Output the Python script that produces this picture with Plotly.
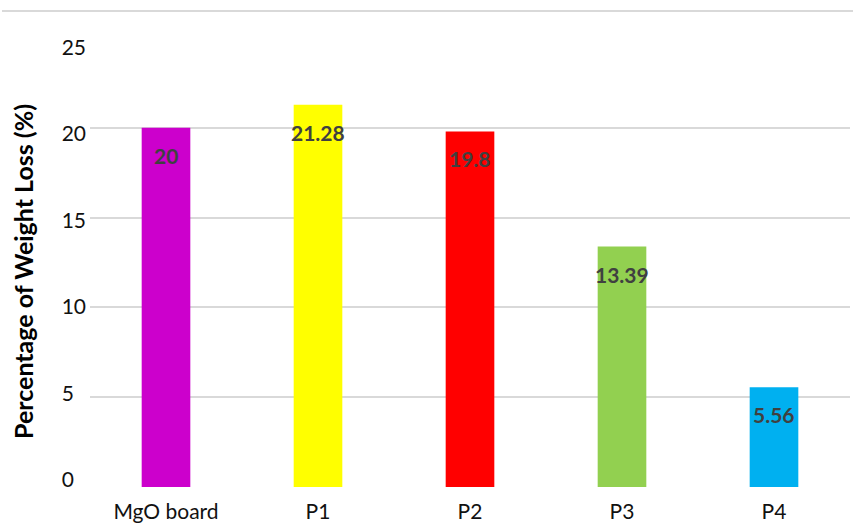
import plotly.graph_objects as go

# Weight loss of each board sample
samples = ["MgO board", "P1", "P2", "P3", "P4"]
weight_loss = [20, 21.28, 19.8, 13.39, 5.56]
bar_colors = ["#CC00CC", "#FFFF00", "#FF0000", "#92D050", "#00B0F0"]

y_ticks = [0, 5, 10, 15, 20, 25]
y_tick_text = ["0\u2007", "5\u2007", "10", "15", "20", "25"]

FONT = "Lato"
W, H = 853, 527
M_L, M_R, M_T, M_B = 90, 3, 38, 40
plot_w = W - M_L - M_R
plot_h = H - M_T - M_B

fig = go.Figure()
fig.add_trace(go.Bar(
    x=samples, y=weight_loss,
    marker=dict(color=bar_colors, line=dict(width=0)),
    width=0.32, showlegend=False, hoverinfo="x+y",
))
# carrier trace for the left-hand label axis
fig.add_trace(go.Scatter(
    x=samples, y=[None] * len(samples), yaxis="y2",
    mode="markers", showlegend=False, hoverinfo="skip",
))

# value labels just under each bar top
for s, v in zip(samples, weight_loss):
    fig.add_annotation(
        x=s, y=v, xref="x", yref="y", text=f"{v:g}",
        showarrow=False, yanchor="top", yshift=-13,
        font=dict(family=FONT, size=21, color="#404040", weight="bold"),
    )

# axis title
fig.add_annotation(
    xref="paper", yref="paper",
    x=-(M_L - 23) / plot_w, y=(H - M_B - 272) / plot_h,
    text="Percentage of Weight Loss (%)", textangle=-90, showarrow=False,
    xanchor="center", yanchor="middle",
    font=dict(family=FONT, size=25, color="#000000", weight="bold"),
)

# thin rule across the top of the chart
fig.add_shape(
    type="line", xref="paper", yref="paper",
    x0=(2 - M_L) / plot_w, x1=(W - M_L) / plot_w,
    y0=(H - M_B - 11) / plot_h, y1=(H - M_B - 11) / plot_h,
    line=dict(color="#D9D9D9", width=2),
)

lab_zero = 480.0   # pixel row of the "0" label
lab_step = 17.3    # pixels per unit for the label axis
y2_lo = (lab_zero - (H - M_B)) / lab_step
y2_hi = (lab_zero - M_T) / lab_step

fig.update_layout(
    width=W, height=H,
    margin=dict(l=M_L, r=M_R, t=M_T, b=M_B, pad=0),
    paper_bgcolor="white", plot_bgcolor="white",
    bargap=0.68,
    font=dict(family=FONT, size=21, color="#111111"),
    xaxis=dict(
        showline=False, showgrid=False, zeroline=False, ticks="",
        tickfont=dict(family=FONT, size=21, color="#111111"),
        ticklabelstandoff=10,
    ),
    yaxis=dict(
        range=[0, 25], tickvals=y_ticks, showticklabels=False,
        showgrid=True, gridcolor="#D9D9D9", gridwidth=2,
        zeroline=False, showline=False, ticks="",
    ),
    yaxis2=dict(
        overlaying="y", side="left", range=[y2_lo, y2_hi],
        tickvals=y_ticks, ticktext=y_tick_text,
        showgrid=False, zeroline=False, showline=False, ticks="",
        tickfont=dict(family=FONT, size=21, color="#111111"),
        ticklabelstandoff=3,
    ),
)

fig.write_html("out.html")
